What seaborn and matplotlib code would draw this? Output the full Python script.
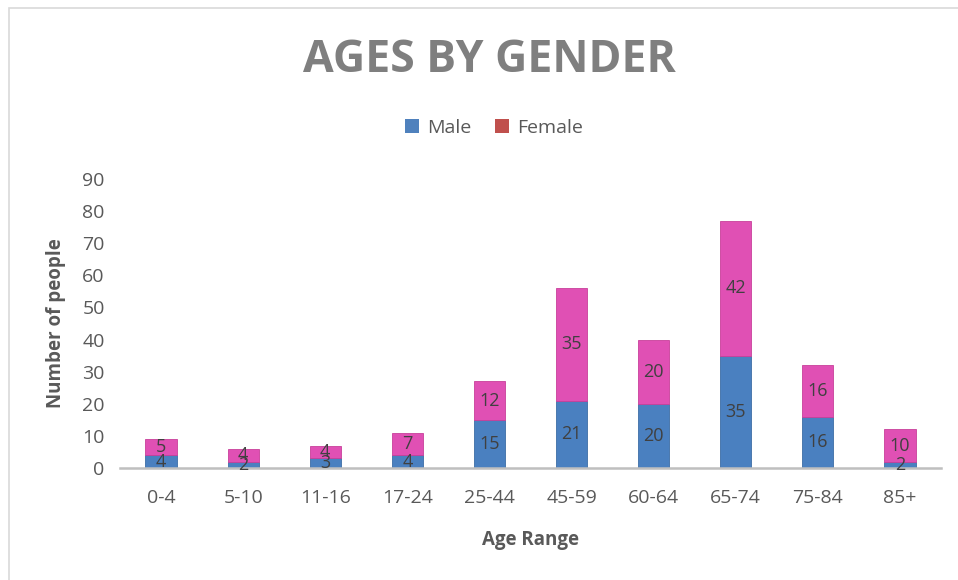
import matplotlib
matplotlib.use("Agg")
import matplotlib.pyplot as plt
import seaborn as sns
import pandas as pd
from matplotlib.patches import Rectangle, Patch

categories = ["0-4", "5-10", "11-16", "17-24", "25-44", "45-59", "60-64", "65-74", "75-84", "85+"]
male = [4, 2, 3, 4, 15, 21, 20, 35, 16, 2]
female = [5, 4, 4, 7, 12, 35, 20, 42, 16, 10]
yticks = [0, 10, 20, 30, 40, 50, 60, 70, 80, 90]

sns.set_theme(style="white")
plt.rcParams['font.family'] = ['Open Sans', 'DejaVu Sans']

df = pd.DataFrame({"Age Range": categories, "Male": male, "Female": female})

fig = plt.figure(figsize=(9.58, 5.80), dpi=100)
ax = fig.add_axes([120/958, 1-468/580, (941-120)/958, (468-179)/580])

male_c = "#4A80C0"
female_c = "#E050B4"
sns.barplot(data=df, x="Age Range", y="Male", color=male_c, width=0.38, ax=ax,
            saturation=1, edgecolor="#3D6DA5", linewidth=0.6)
sns.barplot(data=df, x="Age Range", y="Female", color=female_c, width=0.38, ax=ax,
            saturation=1, bottom=df["Male"], edgecolor="#C8409A", linewidth=0.6)

txt = "#404040"
for i, (m, f) in enumerate(zip(male, female)):
    ax.text(i, m / 2, str(m), ha="center", va="center", fontsize=13, color=txt)
    ax.text(i, m + f / 2, str(f), ha="center", va="center", fontsize=13, color=txt)

ax.set_ylim(0, 90)
ax.set_xlim(-0.5, len(categories) - 0.5)
ax.set_yticks(yticks)
ax.set_yticklabels([str(v) for v in yticks], fontsize=14, color="#595959")
ax.tick_params(axis="x", labelsize=14, labelcolor="#595959", length=0, pad=15)
ax.tick_params(axis="y", length=0, pad=11)
for s in ["top", "right", "left"]:
    ax.spines[s].set_visible(False)
ax.spines["bottom"].set_color("#BFBFBF")
ax.spines["bottom"].set_linewidth(1.8)
ax.set_xlabel("Age Range", fontsize=13.5, fontweight="bold", color="#595959", labelpad=17)
ax.set_ylabel("Number of people", fontsize=13.5, fontweight="bold", color="#595959", labelpad=12)

fig.text(489/958, 1-60/580, "AGES BY GENDER", ha="center", va="center", fontsize=32,
         fontweight="bold", color="#7F7F7F")

handles = [Patch(facecolor="#4F81BD", edgecolor="none"), Patch(facecolor="#C0504D", edgecolor="none")]
fig.legend(handles, ["Male", "Female"], loc="center", bbox_to_anchor=(494/958, 1-128/580),
           ncol=2, frameon=False, fontsize=14, handlelength=0.75, handleheight=0.75,
           handletextpad=0.4, columnspacing=1.2, labelcolor="#595959")

fig.add_artist(Rectangle((9/958, -0.1), 1.1, 1 - 8/580 + 0.1, transform=fig.transFigure,
                         fill=False, edgecolor="#D9D9D9", linewidth=1.2))

fig.savefig("out.png", dpi=100)
